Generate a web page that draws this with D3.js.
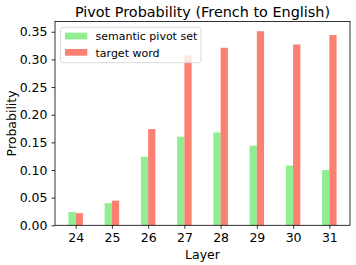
<!DOCTYPE html>
<html>
<head>
<meta charset="utf-8">
<script src="https://cdn.jsdelivr.net/npm/d3@7"></script>
<style>
  body { margin: 0; background: #fff; }
  text { font-family: "DejaVu Sans", sans-serif; fill: #000; }
</style>
</head>
<body>
<div id="chart"></div>
<script>
const layers = [24, 25, 26, 27, 28, 29, 30, 31];
const pivotSet = [0.024, 0.040, 0.124, 0.160, 0.168, 0.144, 0.108, 0.100];
const targetWord = [0.022, 0.0445, 0.174, 0.307, 0.321, 0.351, 0.327, 0.344];
const yTicks = [0, 0.05, 0.10, 0.15, 0.20, 0.25, 0.30, 0.35];

const W = 356, H = 265;
const m = { left: 55, right: 350, top: 21.5, bottom: 225.3 };
const barW = 0.2;

const svg = d3.select('#chart').append('svg')
    .attr('width', W).attr('height', H);

const x = d3.scaleLinear()
    .domain([layers[0] - barW - 0.37, layers[layers.length - 1] + barW + 0.37])
    .range([m.left, m.right]);
const y = d3.scaleLinear()
    .domain([0, d3.max(targetWord) * 1.05])
    .range([m.bottom, m.top]);

// bars
const series = [
    { vals: pivotSet, color: '#90ee90', off: -barW, label: 'semantic pivot set' },
    { vals: targetWord, color: '#fa8072', off: 0, label: 'target word' }
];
series.forEach(s => {
    svg.append('g').selectAll('rect').data(layers).join('rect')
        .attr('x', (d) => x(d + s.off))
        .attr('width', x(barW) - x(0))
        .attr('y', (d, i) => y(s.vals[i]))
        .attr('height', (d, i) => y(0) - y(s.vals[i]))
        .attr('fill', s.color);
});

// axes
const xAxis = svg.append('g').attr('transform', `translate(0,${m.bottom})`)
    .call(d3.axisBottom(x).tickValues(layers).tickSize(3.5).tickPadding(4).tickFormat(d3.format('d')));
const yAxis = svg.append('g').attr('transform', `translate(${m.left},0)`)
    .call(d3.axisLeft(y).tickValues(yTicks).tickSize(3.5).tickPadding(4).tickFormat(d3.format('.2f')));
[xAxis, yAxis].forEach(a => {
    a.select('.domain').remove();
    a.selectAll('text').attr('font-size', '12.5px').attr('font-family', 'DejaVu Sans').attr('fill', '#000');
    a.selectAll('line').attr('stroke', '#000').attr('stroke-width', 0.8);
});

// frame
svg.append('rect')
    .attr('x', m.left).attr('y', m.top)
    .attr('width', m.right - m.left).attr('height', m.bottom - m.top)
    .attr('fill', 'none').attr('stroke', '#000').attr('stroke-width', 0.8);

// labels
svg.append('text').attr('x', (m.left + m.right) / 2).attr('y', 17)
    .attr('text-anchor', 'middle').attr('font-size', '14.4px')
    .text('Pivot Probability (French to English)');
svg.append('text').attr('x', (m.left + m.right) / 2).attr('y', 259)
    .attr('text-anchor', 'middle').attr('font-size', '12.5px')
    .text('Layer');
svg.append('text')
    .attr('transform', `translate(16,${(m.top + m.bottom) / 2}) rotate(-90)`)
    .attr('text-anchor', 'middle').attr('font-size', '12.5px')
    .text('Probability');

// legend
const lg = svg.append('g').attr('transform', 'translate(60.5,27.3)');
lg.append('rect').attr('width', 140.5).attr('height', 35.4).attr('rx', 2.5)
    .attr('fill', '#fff').attr('fill-opacity', 0.8)
    .attr('stroke', '#d0d0d0').attr('stroke-width', 0.8);
series.forEach((s, i) => {
    lg.append('rect').attr('x', 4.5).attr('y', 5.4 + i * 16.3)
        .attr('width', 22.3).attr('height', 6.7).attr('fill', s.color);
    lg.append('text').attr('x', 35).attr('y', 13.2 + i * 16.3)
        .attr('font-size', '11px').text(s.label);
});
</script>
</body>
</html>
